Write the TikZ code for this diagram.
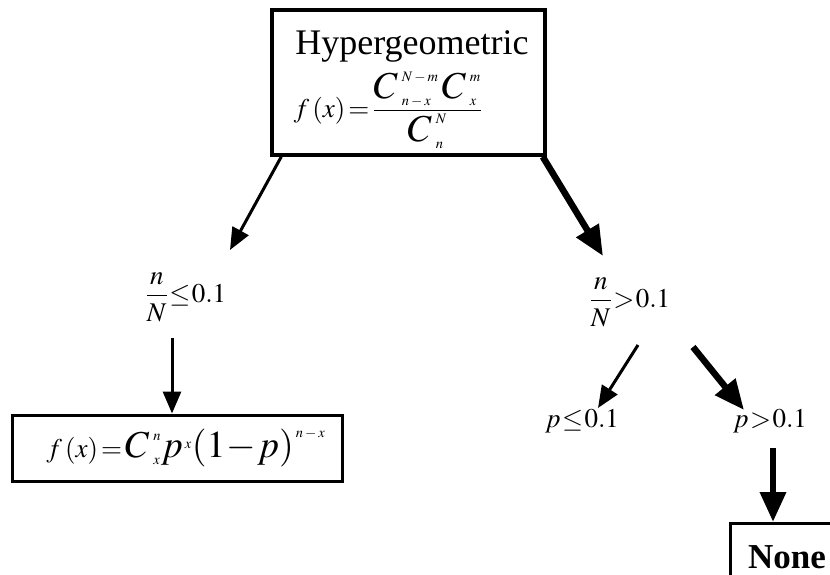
\documentclass[tikz,border=0pt]{standalone}
\usepackage{amsmath}
\usepackage{mathptmx}
\usepackage[no-math]{fontspec}
\setmainfont{Liberation Serif}
\usetikzlibrary{arrows.meta}
\newcommand\BigC{\mbox{\fontsize{38}{38}\selectfont$C$\kern4pt}}
\newcommand\BigP[1]{\mbox{\fontsize{38}{38}\selectfont$#1$\kern2pt}}
\newcommand\sm[1]{\mbox{\fontsize{14.5}{14.5}\selectfont$#1$}}
\tikzset{
  boxx/.style={draw, line width=3pt, inner sep=0pt},
  tarrow/.style={line width=3pt, -{Triangle[length=22pt,width=18pt]}},
  Tarrow/.style={line width=6.5pt, -{Triangle[length=30pt,width=25pt]}},
  lbl/.style={inner sep=0pt, font=\fontsize{27}{29}\selectfont},
}
\begin{document}
\begin{tikzpicture}[x=1pt,y=-1pt]
\useasboundingbox (0,0) rectangle (830,575);
\clip (0,0) rectangle (830,575);
% top box
\node[boxx, line width=3.5pt, minimum width=273pt, minimum height=145pt] (hyper) at (408.5,82.5) {};
\node[inner sep=0pt, anchor=base, font=\fontsize{36}{40}\selectfont] (htitle) at (412,55) {Hypergeometric};
\node[inner sep=0pt, font=\fontsize{27}{29}\selectfont] (hform) at (388,110)
  {$f\,(x)\mathrel{\mkern-2mu=\mkern-2mu}\dfrac{\BigC^{\sm{N-m}}_{\sm{n-x}}\,\BigC^{\sm{m}}_{\sm{x}}}{\BigC^{\sm{N}}_{\sm{n}}}$};
% left branch
\node[lbl] (nle) at (186,297) {$\dfrac{n}{N}\mathrel{\mkern-3mu\le\mkern-3mu} 0.1$};
\node[boxx, minimum width=330pt, minimum height=66pt] (binom) at (177,448) {};
\node[inner sep=0pt, font=\fontsize{27}{29}\selectfont] (bform) at (186,448)
  {$f\,(x)\mathrel{\mkern-2mu=\mkern-2mu}\BigC^{\sm{n}}_{\sm{x}}\BigP{p}^{\sm{x}}\BigP{(1\mkern-2mu-\mkern-2mu p)}^{\sm{n-x}}$};
% right branch
\node[lbl] (ngt) at (630,302) {$\dfrac{n}{N}\mathrel{\mkern-3mu>\mkern-3mu} 0.1$};
\node[lbl, anchor=base] (ple) at (582,427) {$p\mathrel{\mkern-3mu\le\mkern-3mu} 0.1$};
\node[lbl, anchor=base] (pgt) at (770,427) {$p\mathrel{\mkern-3mu>\mkern-3mu} 0.1$};
\node[boxx, minimum width=150pt, minimum height=90pt, anchor=north west] (none) at (729,522) {};
\node[inner sep=0pt, anchor=base, font=\fontsize{35}{38}\selectfont\bfseries] (nonetext) at (787,568) {None};
% arrows
\coordinate (t1) at (230,250);
\draw[tarrow] ([xshift=11pt]hyper.south west) -- (t1);
\coordinate (t2) at (603,256);
\draw[Tarrow] ([xshift=-4pt]hyper.south east) -- (t2);
\coordinate (d1) at (172,338);
\draw[tarrow] (d1) -- (d1 |- binom.north);
\coordinate (s3) at (638,345);
\coordinate (t3) at (598,408);
\draw[tarrow] (s3) -- (t3);
\coordinate (s4) at (693,347);
\coordinate (t4) at (744,410);
\draw[Tarrow] (s4) -- (t4);
\coordinate (s5) at (773,448);
\draw[Tarrow] (s5) -- (s5 |- none.north);
\end{tikzpicture}
\end{document}
